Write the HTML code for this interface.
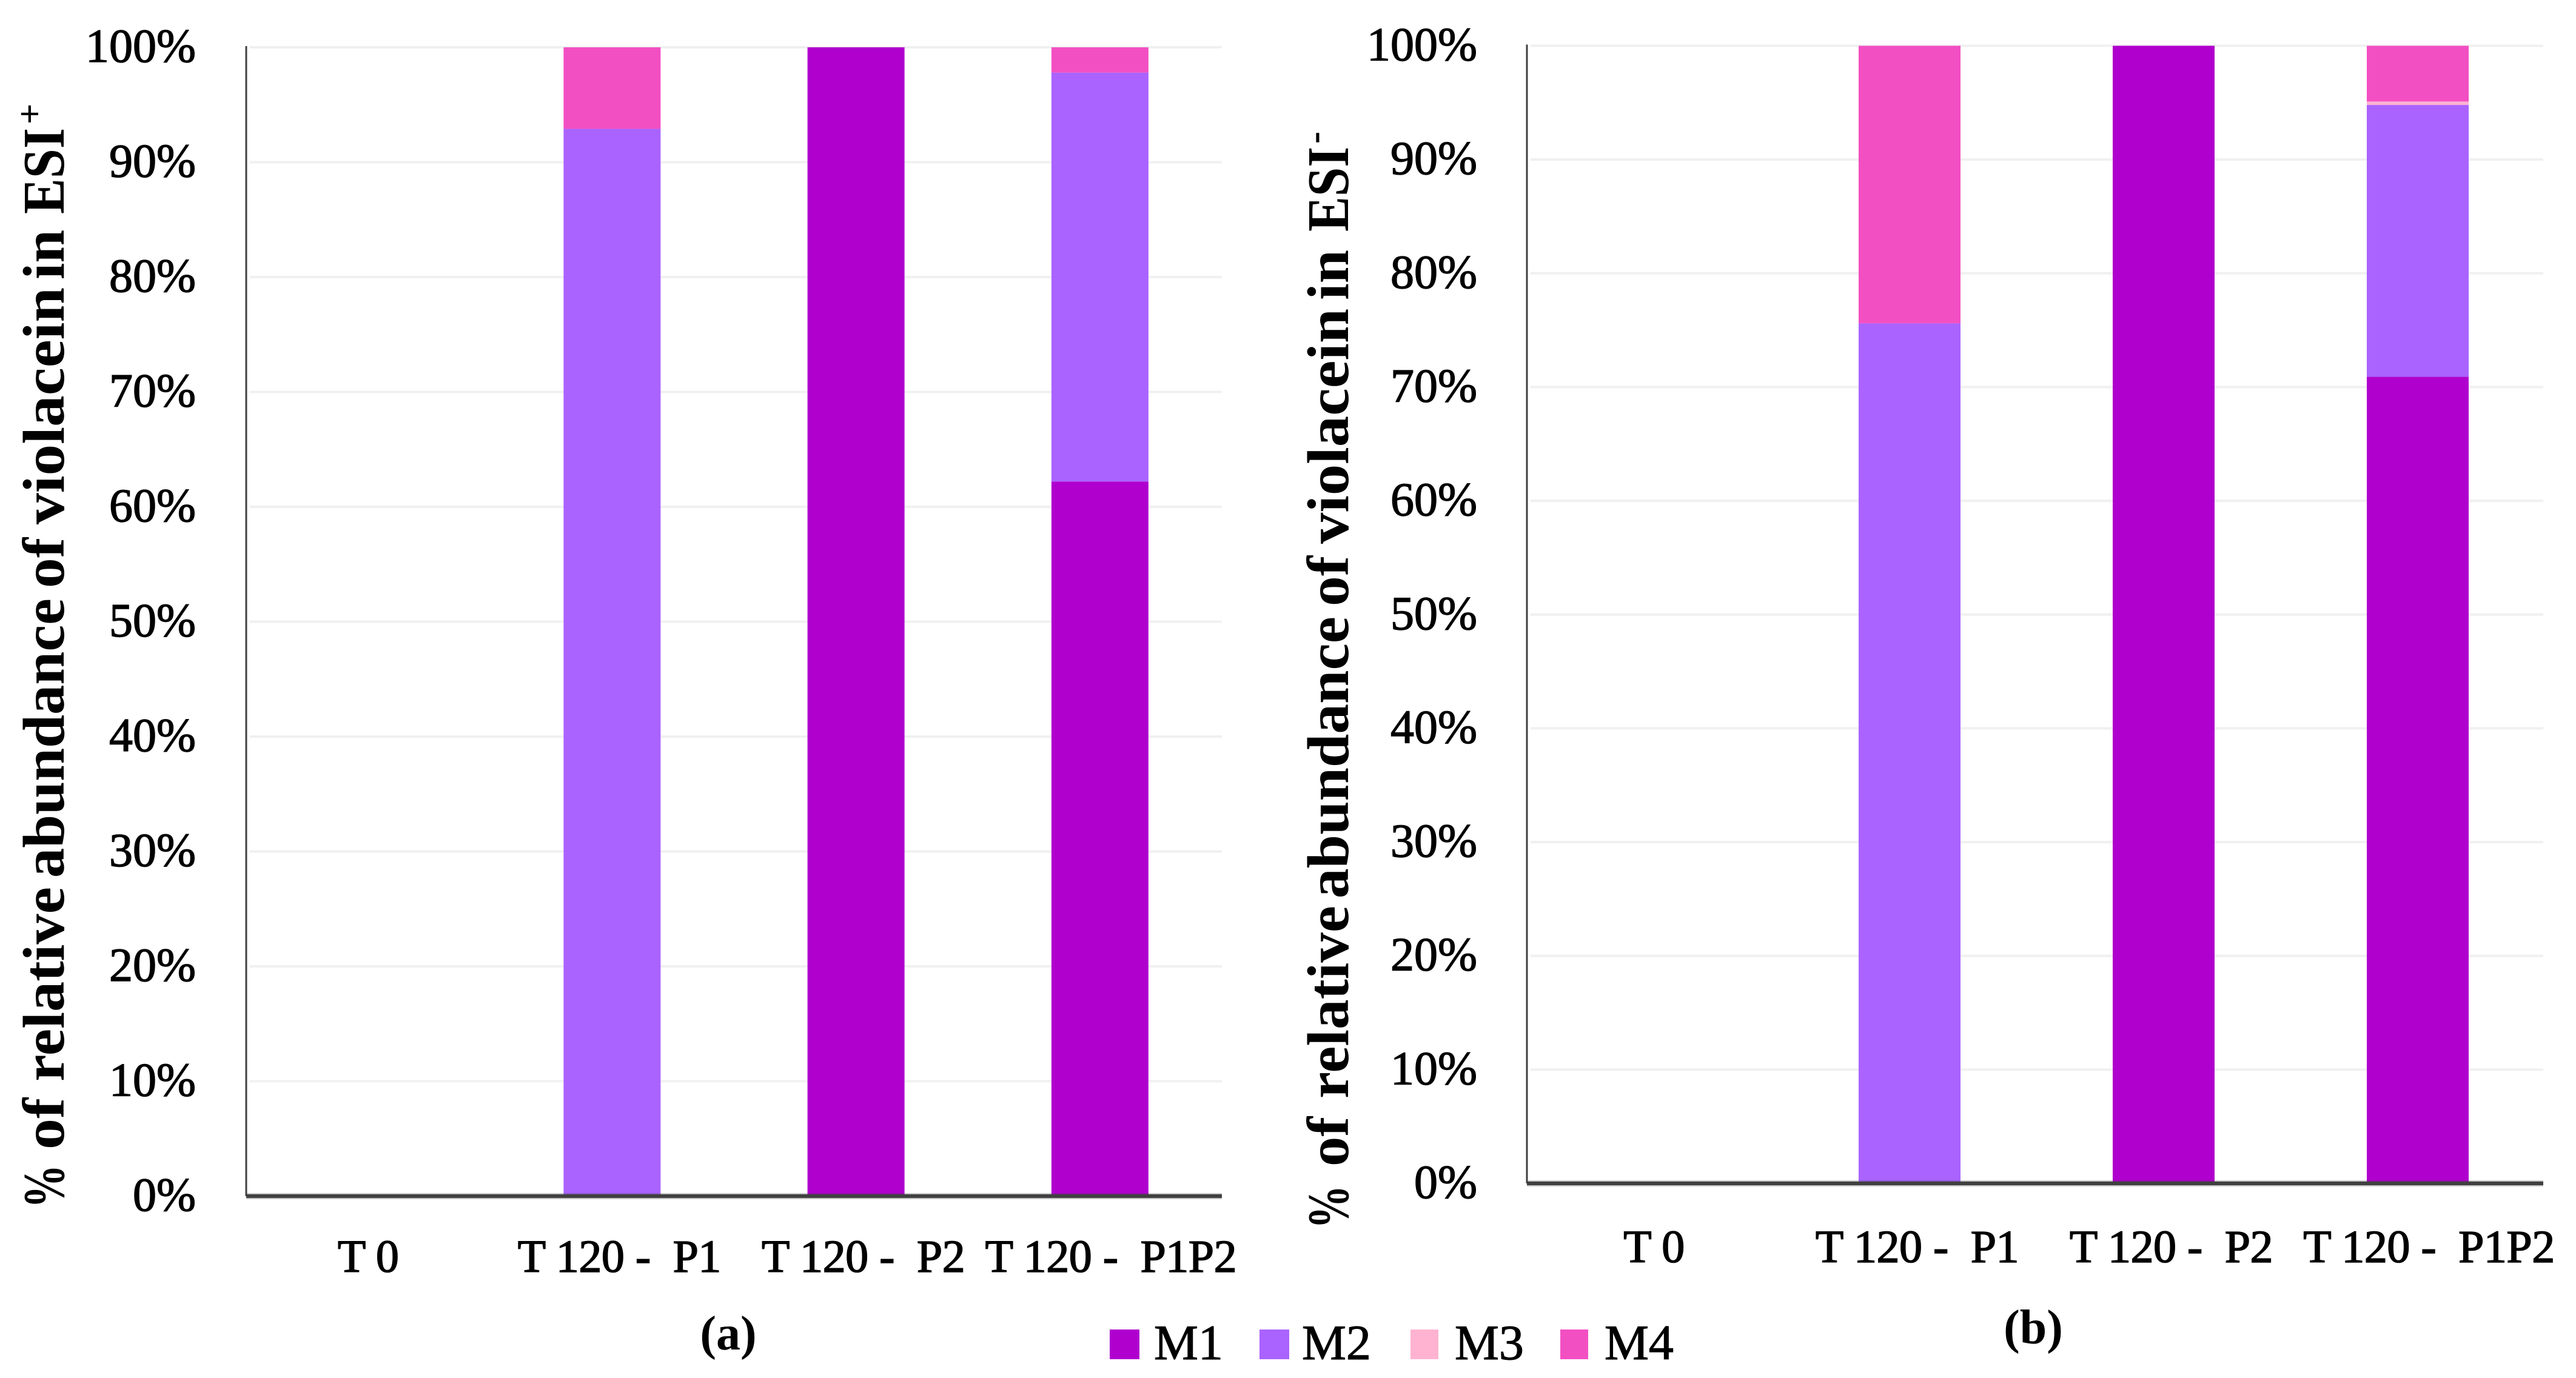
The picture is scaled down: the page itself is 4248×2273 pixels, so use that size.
<!DOCTYPE html>
<html lang="en">
<head>
<meta charset="utf-8">
<title>Relative abundance of violacein in ESI+ and ESI-</title>
<style>
  html, body { margin: 0; padding: 0; background: #ffffff; }
  svg { display: block; font-family: "Liberation Serif", serif; fill: #000000; }
  .tick { font-size: 78px; stroke: #000; stroke-width: 1.4px; }
  .cat { font-size: 76px; stroke: #000; stroke-width: 1.6px; letter-spacing: -0.5px; white-space: pre; }
  .title { font-size: 98px; font-weight: bold; }
  .cap { font-size: 80px; font-weight: bold; }
  .leg { font-size: 82px; stroke: #000; stroke-width: 1.2px; }
</style>
</head>
<body>
<svg id="figure" xmlns="http://www.w3.org/2000/svg" width="4248" height="2273" viewBox="0 0 4248 2273">
  <rect x="0" y="0" width="4248" height="2273" fill="#ffffff"/>
  <g id="chart-a"></g>
  <g id="chart-b"></g>

  <text class="title" transform="translate(105,1993) rotate(-90)"><tspan x="0" textLength="72" lengthAdjust="spacingAndGlyphs">%</tspan> <tspan x="97" textLength="85" lengthAdjust="spacingAndGlyphs">of</tspan> <tspan x="209" textLength="321" lengthAdjust="spacingAndGlyphs">relative</tspan> <tspan x="545" textLength="461" lengthAdjust="spacingAndGlyphs">abundance</tspan> <tspan x="1023" textLength="83" lengthAdjust="spacingAndGlyphs">of</tspan> <tspan x="1128" textLength="391" lengthAdjust="spacingAndGlyphs">violacein</tspan> <tspan x="1532" textLength="82" lengthAdjust="spacingAndGlyphs">in</tspan> <tspan x="1640" textLength="142" lengthAdjust="spacingAndGlyphs">ESI</tspan><tspan x="1788" dy="-36" font-size="60">+</tspan></text>
  <text class="title" transform="translate(2223,2027) rotate(-90)"><tspan x="0" textLength="72" lengthAdjust="spacingAndGlyphs">%</tspan> <tspan x="103" textLength="82" lengthAdjust="spacingAndGlyphs">of</tspan> <tspan x="215" textLength="318" lengthAdjust="spacingAndGlyphs">relative</tspan> <tspan x="545" textLength="465" lengthAdjust="spacingAndGlyphs">abundance</tspan> <tspan x="1027" textLength="83" lengthAdjust="spacingAndGlyphs">of</tspan> <tspan x="1130" textLength="388" lengthAdjust="spacingAndGlyphs">violacein</tspan> <tspan x="1532" textLength="83" lengthAdjust="spacingAndGlyphs">in</tspan> <tspan x="1645" textLength="140" lengthAdjust="spacingAndGlyphs">ESI</tspan><tspan x="1790" dy="-36" font-size="60">-</tspan></text>

  <text class="cap" x="1201" y="2226" text-anchor="middle">(a)</text>
  <text class="cap" x="3353" y="2216" text-anchor="middle">(b)</text>

  <g>
    <g>
      <rect x="1830" y="2193" width="49" height="49" fill="#b000ce"/>
      <text class="leg" x="1903" y="2242">M1</text>
    </g>
    <g>
      <rect x="2077" y="2193" width="49" height="49" fill="#aa63ff"/>
      <text class="leg" x="2147" y="2242">M2</text>
    </g>
    <g>
      <rect x="2326" y="2193" width="46" height="49" fill="#ffb3d1"/>
      <text class="leg" x="2399" y="2242">M3</text>
    </g>
    <g>
      <rect x="2573" y="2193" width="46" height="49" fill="#f24fc3"/>
      <text class="leg" x="2646" y="2242">M4</text>
    </g>
  </g>
</svg>

<script>
var categories = ["T 0", "T 120 -  P1", "T 120 -  P2", "T 120 -  P1P2"];
var tickValues = [0, 10, 20, 30, 40, 50, 60, 70, 80, 90, 100];
var seriesNames = ["M1", "M2", "M3", "M4"];
var seriesColors = ["#b000ce", "#aa63ff", "#ffb3d1", "#f24fc3"];

var chartA_M1 = [0, 0, 100, 62.2];
var chartA_M2 = [0, 92.9, 0, 35.6];
var chartA_M3 = [0, 0, 0, 0];
var chartA_M4 = [0, 7.1, 0, 2.2];

var chartB_M1 = [0, 0, 100, 70.9];
var chartB_M2 = [0, 75.6, 0, 23.9];
var chartB_M3 = [0, 0, 0, 0.3];
var chartB_M4 = [0, 24.4, 0, 4.9];

var SVG_NS = "http://www.w3.org/2000/svg";

function drawChart(groupId, key, series, left, right, top, bottom, barWidth, barShift, tickRight, catBaseline, catShift) {
  var root = document.getElementById(groupId);
  var slot = (right - left) / categories.length;
  function yScale(v) { return bottom - (v / 100) * (bottom - top); }
  function xCenter(i) { return left + slot * (i + 0.5); }

  tickValues.forEach(function (t) {
    if (t > 0) {
      var grid = document.createElementNS(SVG_NS, "line");
      
      
      grid.setAttribute("x1", left + 6);
      grid.setAttribute("x2", right);
      grid.setAttribute("y1", yScale(t));
      grid.setAttribute("y2", yScale(t));
      grid.setAttribute("stroke", "#f0f0f0");
      grid.setAttribute("stroke-width", "4");
      root.appendChild(grid);
    }
    var label = document.createElementNS(SVG_NS, "text");
    
    
    label.setAttribute("class", "tick");
    label.setAttribute("x", tickRight);
    label.setAttribute("y", yScale(t) + 24);
    label.setAttribute("text-anchor", "end");
    label.textContent = t + "%";
    root.appendChild(label);
  });

  categories.forEach(function (cat, i) {
    var stack = 0;
    series.forEach(function (values, s) {
      var v = values[i];
      if (v > 0) {
        var bar = document.createElementNS(SVG_NS, "rect");
        
        
        bar.setAttribute("x", xCenter(i) + barShift - barWidth / 2);
        bar.setAttribute("width", barWidth);
        bar.setAttribute("y", yScale(stack + v));
        bar.setAttribute("height", yScale(stack) - yScale(stack + v));
        bar.setAttribute("fill", seriesColors[s]);
        root.appendChild(bar);
      }
      stack += v;
    });

    var catLabel = document.createElementNS(SVG_NS, "text");
    
    
    catLabel.setAttribute("class", "cat");
    catLabel.setAttribute("x", xCenter(i) + (i > 0 ? catShift : 0) + (i === 3 ? 6 : 0));
    catLabel.setAttribute("y", catBaseline);
    catLabel.setAttribute("text-anchor", "middle");
    catLabel.textContent = cat;
    root.appendChild(catLabel);
  });

  var yAxis = document.createElementNS(SVG_NS, "line");
  
  
  yAxis.setAttribute("x1", left);
  yAxis.setAttribute("x2", left);
  yAxis.setAttribute("y1", top - 2);
  yAxis.setAttribute("y2", bottom);
  yAxis.setAttribute("stroke", "#404040");
  yAxis.setAttribute("stroke-width", "3");
  root.appendChild(yAxis);

  var xAxisHalo = document.createElementNS(SVG_NS, "line");
  
  
  xAxisHalo.setAttribute("x1", left);
  xAxisHalo.setAttribute("x2", right);
  xAxisHalo.setAttribute("y1", bottom);
  xAxisHalo.setAttribute("y2", bottom);
  xAxisHalo.setAttribute("stroke", "#404040");
  xAxisHalo.setAttribute("stroke-opacity", "0.3");
  xAxisHalo.setAttribute("stroke-width", "10");
  root.appendChild(xAxisHalo);

  var xAxis = document.createElementNS(SVG_NS, "line");
  
  
  xAxis.setAttribute("x1", left);
  xAxis.setAttribute("x2", right);
  xAxis.setAttribute("y1", bottom);
  xAxis.setAttribute("y2", bottom);
  xAxis.setAttribute("stroke", "#404040");
  xAxis.setAttribute("stroke-width", "6");
  root.appendChild(xAxis);
}

drawChart("chart-a", "a", [chartA_M1, chartA_M2, chartA_M3, chartA_M4], 406, 2015, 78, 1973, 160, 0, 323, 2098, 12);
drawChart("chart-b", "b", [chartB_M1, chartB_M2, chartB_M3, chartB_M4], 2518, 4194, 75.5, 1952, 168, 2.5, 2436, 2082, 15);
</script>
</body>
</html>
